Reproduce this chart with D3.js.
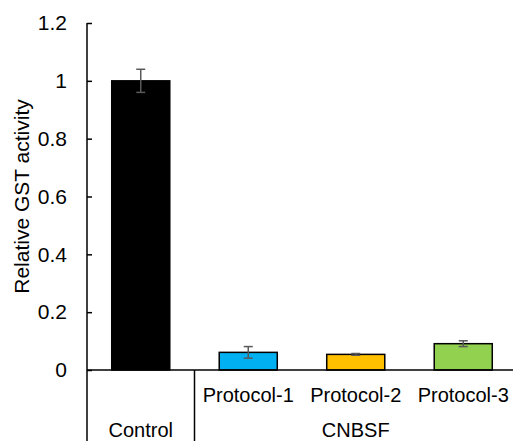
<!DOCTYPE html>
<html>
<head>
<meta charset="utf-8">
<script src="https://cdn.jsdelivr.net/npm/d3@7"></script>
<style>
  body { margin: 0; background: #fff; }
  svg { display: block; font-family: "Liberation Sans", Arial, sans-serif; }
</style>
</head>
<body>
<div id="chart"></div>
<script>
// chart data
const categories = ['Control', 'Protocol-1', 'Protocol-2', 'Protocol-3'];
const subLabels = ['', 'Protocol-1', 'Protocol-2', 'Protocol-3'];
const values = [1.0, 0.061, 0.054, 0.091];
const errors = [0.04, 0.02, 0.003, 0.01];
const barColors = ['#000000', '#00B0F0', '#FFC000', '#92D050'];
const groupNames = ['Control', 'CNBSF'];
const groupStart = [0, 1];
const groupEnd = [0, 3];
const yTicks = [0, 0.2, 0.4, 0.6, 0.8, 1, 1.2];

const width = 513, height = 441;
const plotLeft = 87, plotRight = 517, plotTop = 23, plotBottom = 370;

const svg = d3.select('#chart').append('svg')
  .attr('width', width)
  .attr('height', height);

// scales
const x = d3.scaleBand()
  .domain(categories)
  .range([plotLeft, plotRight])
  .paddingInner(0.46)
  .paddingOuter(0.23);

const y = d3.scaleLinear()
  .domain([0, 1.2])
  .range([plotBottom, plotTop]);

const gap = (x.step() - x.bandwidth()) / 2;

// bars
svg.selectAll('.bar').data(categories)
  .enter().append('rect')
  .attr('class', 'bar')
  .attr('x', d => x(d))
  .attr('y', (d, i) => y(values[i]))
  .attr('width', x.bandwidth())
  .attr('height', (d, i) => y(0) - y(values[i]))
  .attr('fill', (d, i) => barColors[i])
  .attr('stroke', '#000')
  .attr('stroke-width', 1.5);

// error bars
const err = svg.selectAll('.err').data(categories)
  .enter().append('g')
  .attr('class', 'err')
  .attr('stroke', '#595959')
  .attr('stroke-width', 1.5);

err.append('line')
  .attr('x1', d => x(d) + x.bandwidth() / 2)
  .attr('x2', d => x(d) + x.bandwidth() / 2)
  .attr('y1', (d, i) => y(values[i] + errors[i]))
  .attr('y2', (d, i) => y(values[i] - errors[i]));

err.append('line')
  .attr('x1', d => x(d) + x.bandwidth() / 2 - 4.5)
  .attr('x2', d => x(d) + x.bandwidth() / 2 + 4.5)
  .attr('y1', (d, i) => y(values[i] + errors[i]))
  .attr('y2', (d, i) => y(values[i] + errors[i]));

err.append('line')
  .attr('x1', d => x(d) + x.bandwidth() / 2 - 4.5)
  .attr('x2', d => x(d) + x.bandwidth() / 2 + 4.5)
  .attr('y1', (d, i) => y(values[i] - errors[i]))
  .attr('y2', (d, i) => y(values[i] - errors[i]));

// y axis
const yAxis = svg.append('g')
  .attr('transform', 'translate(' + plotLeft + ',0)')
  .call(d3.axisLeft(y).tickValues(yTicks).tickSize(-5).tickPadding(20)
    .tickFormat(d3.format('~g')));
yAxis.select('.domain').remove();
yAxis.selectAll('.tick line').attr('stroke', '#000').attr('stroke-width', 1.5);
yAxis.selectAll('.tick text')
  .attr('font-size', 21)
  .attr('fill', '#000')
  .attr('font-family', '"Liberation Sans", Arial, sans-serif');

svg.append('line')
  .attr('x1', plotLeft).attr('x2', plotLeft)
  .attr('y1', y(1.2)).attr('y2', height)
  .attr('stroke', '#000').attr('stroke-width', 1.5);

// x axis line
svg.append('line')
  .attr('x1', plotLeft).attr('x2', width)
  .attr('y1', y(0)).attr('y2', y(0))
  .attr('stroke', '#000').attr('stroke-width', 1.5);

// group separators
groupStart.forEach((s, i) => {
  if (i === 0) return;
  const sx = x(categories[s]) - gap;
  svg.append('line')
    .attr('x1', sx).attr('x2', sx)
    .attr('y1', y(0)).attr('y2', height)
    .attr('stroke', '#000').attr('stroke-width', 1.5);
});

// category labels
svg.selectAll('.cat').data(categories)
  .enter().append('text')
  .attr('class', 'cat')
  .attr('x', d => x(d) + x.bandwidth() / 2)
  .attr('y', 402)
  .attr('text-anchor', 'middle')
  .attr('font-size', 20)
  .text((d, i) => subLabels[i]);

// group labels
svg.selectAll('.grp').data(groupNames)
  .enter().append('text')
  .attr('class', 'grp')
  .attr('x', (d, i) => {
    const a = x(categories[groupStart[i]]) - gap;
    const b = x(categories[groupEnd[i]]) + x.bandwidth() + gap;
    return (a + b) / 2;
  })
  .attr('y', 437)
  .attr('text-anchor', 'middle')
  .attr('font-size', 20)
  .text(d => d);

// y axis title
svg.append('text')
  .attr('transform', 'translate(29,' + (plotTop + plotBottom) / 2 + ') rotate(-90)')
  .attr('text-anchor', 'middle')
  .attr('font-size', 21)
  .text('Relative GST activity');
</script>
</body>
</html>
